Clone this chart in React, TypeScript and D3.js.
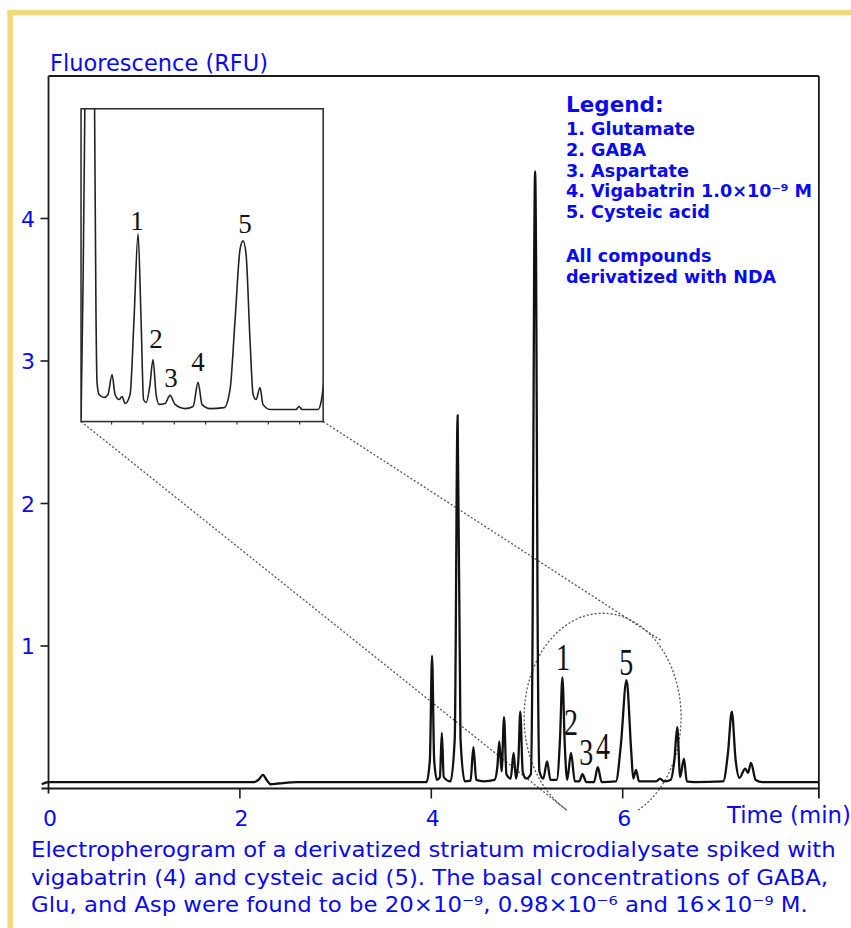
import React from 'react';
import * as d3 from 'd3';

const W = 851;
const H = 928;

// ---- axes ----
const xTicks = [0, 2, 4, 6];
const yTicks = [1, 2, 3, 4];
const insetTicks = [5.2, 5.4, 5.6, 5.8, 6.0, 6.2, 6.4];

// ---- main electropherogram trace: time (min) / fluorescence (RFU) ----
const mainTime = [
  -0.07, 0.0, 1.0, 2.15, 2.2, 2.24, 2.28, 2.32, 2.4, 2.6,
  3.95, 3.985, 4.008, 4.03, 4.06, 4.09, 4.11, 4.13, 4.2,
  4.245, 4.275, 4.305, 4.35, 4.41, 4.44, 4.47, 4.55, 4.66, 4.69, 4.71, 4.735, 4.76, 4.785,
  4.83, 4.86, 4.885, 4.91, 4.93, 4.955, 4.99,
  5.04, 5.06, 5.075, 5.085, 5.095, 5.11, 5.13, 5.17, 5.21, 5.245,
  5.31, 5.345, 5.37, 5.395, 5.42, 5.46, 5.5, 5.545, 5.58, 5.62, 5.7, 5.74, 5.78,
  5.93, 5.98, 6.04, 6.09, 6.11, 6.14, 6.17, 6.35, 6.39, 6.43,
  6.5, 6.54, 6.57, 6.6, 6.64, 6.67, 6.75,
  7.05, 7.1, 7.14, 7.18, 7.22, 7.28, 7.31, 7.34, 7.39, 7.46, 8.05,
];
const mainRfu = [
  0.03, 0.045, 0.045, 0.045, 0.065, 0.095, 0.06, 0.03, 0.035, 0.045,
  0.045, 0.2, 0.93, 0.2, 0.06, 0.08, 0.39, 0.08, 0.05,
  0.35, 2.62, 0.35, 0.05, 0.055, 0.29, 0.06, 0.05, 0.06, 0.15, 0.33, 0.12, 0.5, 0.1,
  0.07, 0.25, 0.07, 0.2, 0.54, 0.12, 0.07,
  0.1, 1.3, 3.7, 4.33, 3.7, 1.3, 0.12, 0.07, 0.19, 0.06,
  0.06, 0.35, 0.78, 0.3, 0.06, 0.25, 0.05, 0.05, 0.1, 0.045, 0.045, 0.15, 0.045,
  0.05, 0.3, 0.76, 0.25, 0.07, 0.13, 0.05, 0.05, 0.07, 0.05,
  0.06, 0.2, 0.43, 0.08, 0.21, 0.05, 0.045,
  0.05, 0.25, 0.54, 0.2, 0.075, 0.14, 0.11, 0.18, 0.06, 0.045, 0.045,
];

// ---- inset (enlarged region 5.0 - 6.55 min) ----
const insetTime = [
  5.005, 5.018, 5.03, 5.06, 5.091, 5.1, 5.107, 5.12, 5.152, 5.177, 5.203, 5.222,
  5.248, 5.267, 5.286, 5.318, 5.343, 5.369, 5.388, 5.404, 5.42, 5.445, 5.464, 5.484,
  5.503, 5.541, 5.573, 5.605, 5.669, 5.72, 5.752, 5.777, 5.828, 5.918, 5.956, 5.988,
  6.02, 6.039, 6.058, 6.083, 6.103, 6.122, 6.147, 6.166, 6.211, 6.377, 6.396, 6.415,
  6.517, 6.536, 6.56,
];
const insetRfu = [
  0.01, 0.6, 1.4, 3.0, 1.4, 0.5, 0.17, 0.117, 0.104, 0.117, 0.203, 0.117,
  0.095, 0.108, 0.078, 0.117, 0.44, 0.81, 0.44, 0.095, 0.082, 0.16, 0.268, 0.117,
  0.074, 0.078, 0.113, 0.074, 0.056, 0.065, 0.169, 0.074, 0.056, 0.06, 0.139, 0.44,
  0.745, 0.78, 0.723, 0.355, 0.117, 0.095, 0.147, 0.074, 0.052, 0.052, 0.065, 0.052,
  0.052, 0.082, 0.2,
];

// inset placement, in main-chart data units
const insetBoxTime = [0.34, 2.87];
const insetBoxRfu = [2.575, 4.77];
const insetDomainTime = [5.005, 6.55];
const insetDomainRfu = [0, 1.35];

// zoom ellipse and connector ends (main-chart data units)
const zoomCenter = [5.79, 0.5];
const zoomRadius = [0.82, 0.73];
const zoomCutRfu = -0.151;
const connectorEnds = [
  [5.43, -0.16],
  [6.4, 1.04],
];

// ---- peak labels ----
const peakLabels = ['1', '2', '3', '4', '5'];
const mainLabelTime = [5.377, 5.461, 5.618, 5.795, 6.036];
const mainLabelRfu = [0.917, 0.461, 0.25, 0.292, 0.882];
const insetLabelTime = [5.362, 5.484, 5.579, 5.752, 6.052];
const insetLabelRfu = [0.866, 0.355, 0.19, 0.255, 0.853];

// ---- texts ----
const yTitle = 'Fluorescence (RFU)';
const xTitle = 'Time (min)';
const legendTitle = 'Legend:';
const legendItems = [
  '1. Glutamate',
  '2. GABA',
  '3. Aspartate',
  '4. Vigabatrin 1.0×10⁻⁹ M',
  '5. Cysteic acid',
];
const legendNote = ['All compounds', 'derivatized with NDA'];
const captionLines = [
  'Electropherogram of a derivatized striatum microdialysate spiked with',
  'vigabatrin (4) and cysteic acid (5). The basal concentrations of GABA,',
  'Glu, and Asp were found to be 20×10⁻⁹, 0.98×10⁻⁶ and 16×10⁻⁹ M.',
];

const BLUE = '#0a0af0';
const SANS = '"DejaVu Sans", Verdana, sans-serif';
const SERIF = '"Liberation Serif", "Times New Roman", serif';

export default function App() {
  const x = d3.scaleLinear().domain([0, 8.05]).range([48.5, 48.5 + 95.7 * 8.05]);
  const y = d3.scaleLinear().domain([0, 5]).range([788.5, 76]);

  const ix = d3
    .scaleLinear()
    .domain(insetDomainTime)
    .range([x(insetBoxTime[0]), x(insetBoxTime[1])]);
  const iy = d3
    .scaleLinear()
    .domain(insetDomainRfu)
    .range([y(insetBoxRfu[0]), y(insetBoxRfu[1])]);

  const mainLine = d3
    .line<number>()
    .x((i) => x(mainTime[i]))
    .y((i) => y(mainRfu[i]))
    .curve(d3.curveMonotoneX);
  const insetLine = d3
    .line<number>()
    .x((i) => ix(insetTime[i]))
    .y((i) => iy(insetRfu[i]))
    .curve(d3.curveMonotoneX);

  const xL = x(0);
  const xR = x(8.05);
  const yTop = y(5);
  const y0 = y(0);

  const bx0 = x(insetBoxTime[0]);
  const bx1 = x(insetBoxTime[1]);
  const by0 = y(insetBoxRfu[0]);
  const by1 = y(insetBoxRfu[1]);

  // ellipse
  const ecx = x(zoomCenter[0]);
  const ecy = y(zoomCenter[1]);
  const erx = x(zoomCenter[0] + zoomRadius[0]) - ecx;
  const ery = ecy - y(zoomCenter[1] + zoomRadius[1]);
  const cutY = y(zoomCutRfu);
  const s = Math.min(1, (cutY - ecy) / ery);
  const dx = erx * Math.sqrt(1 - s * s);
  const ellipsePath = `M${ecx + dx},${cutY} A${erx},${ery} 0 1 0 ${ecx - dx},${cutY}`;

  return (
    <svg
      width={W}
      height={H}
      viewBox={`0 0 ${W} ${H}`}
      style={{ position: 'absolute', left: 0, top: 0, display: 'block', background: '#fff' }}
    >
      <defs>
        <clipPath id="insetClip">
          <rect x={bx0} y={by1} width={bx1 - bx0} height={by0 - by1} />
        </clipPath>
      </defs>

      {/* gold page border */}
      <rect x={7.5} y={10} width={W - 7.5} height={5.3} fill="#f2da7c" />
      <rect x={7.5} y={10} width={5.3} height={H - 10} fill="#f2da7c" />

      {/* dotted zoom marks */}
      <g fill="none" stroke="#555" strokeWidth={1.3} strokeDasharray="2 2">
        <path d={ellipsePath} />
        <line x1={bx0} y1={by0} x2={x(connectorEnds[0][0])} y2={y(connectorEnds[0][1])} />
        <line x1={bx1} y1={by0} x2={x(connectorEnds[1][0])} y2={y(connectorEnds[1][1])} />
      </g>

      {/* frame & axes */}
      <g stroke="#1a1a1a" fill="none">
        <line x1={xL} y1={yTop} x2={xR} y2={yTop} strokeWidth={2} />
        <line x1={xR} y1={yTop} x2={xR} y2={y0 + 10} strokeWidth={1.8} />
        <line x1={xL} y1={yTop} x2={xL} y2={y0 + 5} strokeWidth={1.8} />
        <line x1={xL - 7} y1={y0} x2={xR} y2={y0} strokeWidth={1.8} />
        {xTicks
          .filter((t) => t > 0)
          .map((t) => (
            <line key={t} x1={x(t)} y1={y0} x2={x(t)} y2={y0 + 10} strokeWidth={1.6} />
          ))}
        {yTicks.map((v) => (
          <line key={v} x1={xL - 8} y1={y(v)} x2={xL} y2={y(v)} strokeWidth={1.6} />
        ))}
      </g>

      {/* main trace */}
      <path
        d={mainLine(d3.range(mainTime.length)) || ''}
        fill="none"
        stroke="#111"
        strokeWidth={2.3}
        strokeLinejoin="round"
      />

      {/* main peak labels */}
      {peakLabels.map((l, i) => (
        <text
          key={'m' + l}
          transform={`translate(${x(mainLabelTime[i])},${y(mainLabelRfu[i]) + 12.5}) scale(1,1.35)`}
          textAnchor="middle"
          fontFamily={SERIF}
          fontSize={28}
          fill="#111"
        >
          {l}
        </text>
      ))}

      {/* inset */}
      <rect x={bx0} y={by1} width={bx1 - bx0} height={by0 - by1} fill="#fff" stroke="#333" strokeWidth={1.6} />
      <g clipPath="url(#insetClip)">
        <path
          d={insetLine(d3.range(insetTime.length)) || ''}
          fill="none"
          stroke="#222"
          strokeWidth={1.6}
          strokeLinejoin="round"
        />
      </g>
      {insetTicks.map((t) => (
        <line key={t} x1={ix(t)} y1={by0} x2={ix(t)} y2={by0 + 3} stroke="#333" strokeWidth={1.2} />
      ))}
      {peakLabels.map((l, i) => (
        <text
          key={'i' + l}
          x={ix(insetLabelTime[i])}
          y={iy(insetLabelRfu[i]) + 9}
          textAnchor="middle"
          fontFamily={SERIF}
          fontSize={27}
          fill="#111"
        >
          {l}
        </text>
      ))}

      {/* tick labels */}
      {xTicks.map((t) => (
        <text key={t} x={x(t) + 1.5} y={826} textAnchor="middle" fontFamily={SANS} fontSize={22} fill={BLUE}>
          {t}
        </text>
      ))}
      {yTicks.map((v) => (
        <text key={v} x={35} y={y(v) + 8} textAnchor="end" fontFamily={SANS} fontSize={22} fill={BLUE}>
          {v}
        </text>
      ))}

      {/* axis titles */}
      <text x={50} y={70.5} fontFamily={SANS} fontSize={22.5} fill={BLUE}>
        {yTitle}
      </text>
      <text x={727} y={823} fontFamily={SANS} fontSize={22.8} fill={BLUE}>
        {xTitle}
      </text>

      {/* legend */}
      <text x={566} y={112} fontFamily={SANS} fontWeight="bold" fontSize={21.5} fill={BLUE}>
        {legendTitle}
      </text>
      {legendItems.map((t, i) => (
        <text key={t} x={566} y={135 + i * 20.8} fontFamily={SANS} fontWeight="bold" fontSize={17.6} fill={BLUE}>
          {t}
        </text>
      ))}
      {legendNote.map((t, i) => (
        <text key={t} x={566} y={261.7 + i * 20.8} fontFamily={SANS} fontWeight="bold" fontSize={17.6} fill={BLUE}>
          {t}
        </text>
      ))}

      {/* caption */}
      <g transform="translate(31,0) scale(1.062,1)">
        {captionLines.map((t, i) => (
          <text key={i} x={0} y={857 + i * 27.7} fontFamily={SANS} fontSize={21.5} fill={BLUE}>
            {t}
          </text>
        ))}
      </g>
    </svg>
  );
}
